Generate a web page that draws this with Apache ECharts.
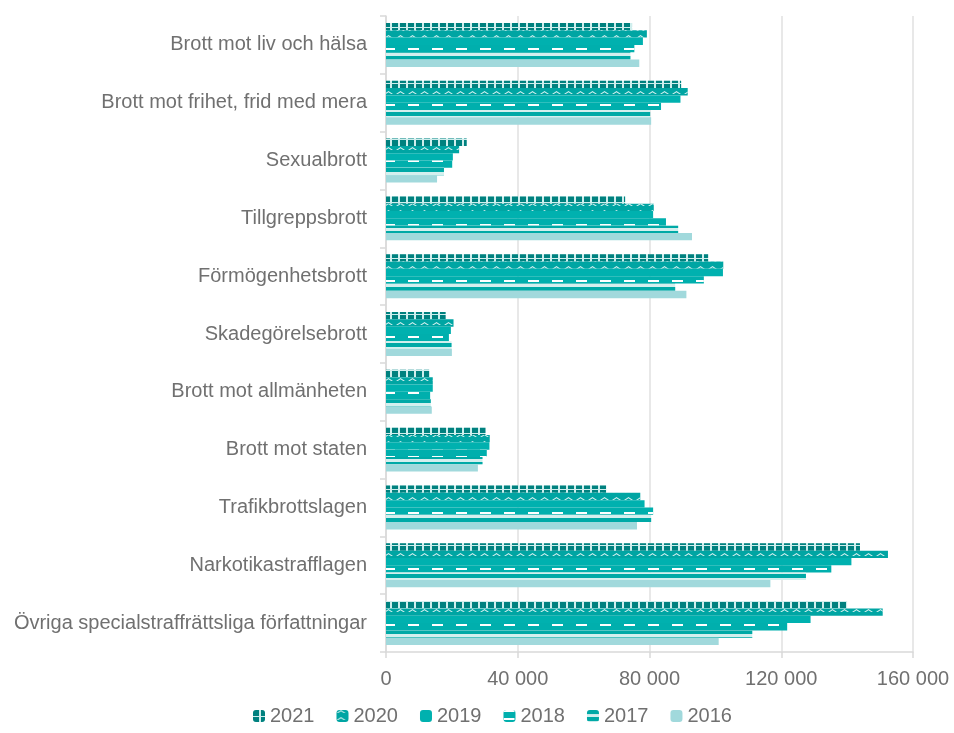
<!DOCTYPE html>
<html>
<head>
<meta charset="utf-8">
<script src="https://cdn.jsdelivr.net/npm/echarts@6/dist/echarts.min.js"></script>
<style>html,body{margin:0;padding:0;background:#fff}#c{width:954px;height:733px}</style>
</head>
<body>
<div id="c"></div>
<script>
const categories = ['Brott mot liv och hälsa','Brott mot frihet, frid med mera','Sexualbrott','Tillgreppsbrott','Förmögenhetsbrott','Skadegörelsebrott','Brott mot allmänheten','Brott mot staten','Trafikbrottslagen','Narkotikastrafflagen','Övriga specialstraffrättsliga författningar'];
const years = ['2021','2020','2019','2018','2017','2016'];
const v2021 = [74700, 89600, 24500, 72600, 97800, 18100, 13100, 30200, 66900, 143900, 140000];
const v2020 = [79200, 91600, 22200, 81300, 102400, 20500, 14200, 31500, 77200, 152400, 150800];
const v2019 = [78000, 89400, 20300, 81100, 102300, 19700, 14200, 31400, 78500, 141300, 128900];
const v2018 = [75400, 83500, 20100, 85000, 96500, 19100, 13400, 30600, 81100, 135200, 121800];
const v2017 = [74200, 80200, 17600, 88700, 87800, 19900, 13600, 29300, 80500, 127500, 111200];
const v2016 = [76900, 80500, 15500, 92900, 91200, 20000, 13900, 27900, 76200, 116700, 101000];
const xTicks = [0, 40000, 80000, 120000, 160000];

const values = [v2021, v2020, v2019, v2018, v2017, v2016];
function dec(o) {
  return Object.assign({symbol:'rect', symbolSize:1, symbolKeepAspect:false, rotation:0, backgroundColor:null, maxTileWidth:512, maxTileHeight:512}, o);
}
const styles = [
  {color:'#cfeeed', decal:dec({color:'#00817f', dashArrayX:[6,2], dashArrayY:[6,1]})},
  {color:'#00a5a3', decal:dec({symbol:'path://M0,10 L5,0 L10,10 L8,10 L5,4 L2,10 Z', color:'#d6f1f0', dashArrayX:[9,3], dashArrayY:[3,4]})},
  {color:'#00b1af', decal:dec({symbol:'none', dashArrayX:[5,5], dashArrayY:[5,5]})},
  {color:'#00afad', decal:dec({color:'#ffffff', dashArrayX:[11,13], dashArrayY:[2,6]})},
  {color:'#d3efee', decal:dec({color:'#00a9a6', dashArrayX:[20,0], dashArrayY:[4,3]})},
  {color:'#a1d9dc', decal:dec({symbol:'none', dashArrayX:[5,5], dashArrayY:[5,5]})}
];
const font = "'Liberation Sans', Arial, sans-serif";
const txt = '#707070';
const fmt = v => String(v).replace(/\B(?=(\d{3})+(?!\d))/g, ' ');

const chart = echarts.init(document.getElementById('c'), null, {renderer:'canvas'});
chart.setOption({
  animation: false,
  aria: {enabled: true, decal: {show: true}},
  grid: {left: 386, right: 41, top: 16, bottom: 81, containLabel: false},
  xAxis: {
    type: 'value', min: xTicks[0], max: xTicks[xTicks.length-1], interval: 40000,
    axisLine: {show: true, lineStyle: {color: '#d9d9d9', width: 1.5}},
    axisTick: {show: true, length: 6, lineStyle: {color: '#d9d9d9', width: 1.5}},
    splitLine: {show: true, lineStyle: {color: '#e0e0e0', width: 1.5}},
    axisLabel: {color: txt, fontSize: 20, fontFamily: font, margin: 17, formatter: fmt}
  },
  yAxis: {
    type: 'category', data: categories, inverse: true,
    axisLine: {show: true, lineStyle: {color: '#d9d9d9', width: 1.5}},
    axisTick: {show: true, length: 6, alignWithLabel: false, lineStyle: {color: '#d9d9d9', width: 1.5}},
    axisLabel: {color: txt, fontSize: 20, fontFamily: font, margin: 19}
  },
  legend: {
    data: years, bottom: 2, left: 248, itemWidth: 12, itemHeight: 12, itemGap: 22,
    textStyle: {color: txt, fontSize: 20, fontFamily: font}
  },
  series: years.map((y, i) => ({
    name: y, type: 'bar', data: values[i],
    barGap: '0%', barCategoryGap: '24%',
    itemStyle: {color: styles[i].color, decal: styles[i].decal}
  }))
});
</script>
</body>
</html>
